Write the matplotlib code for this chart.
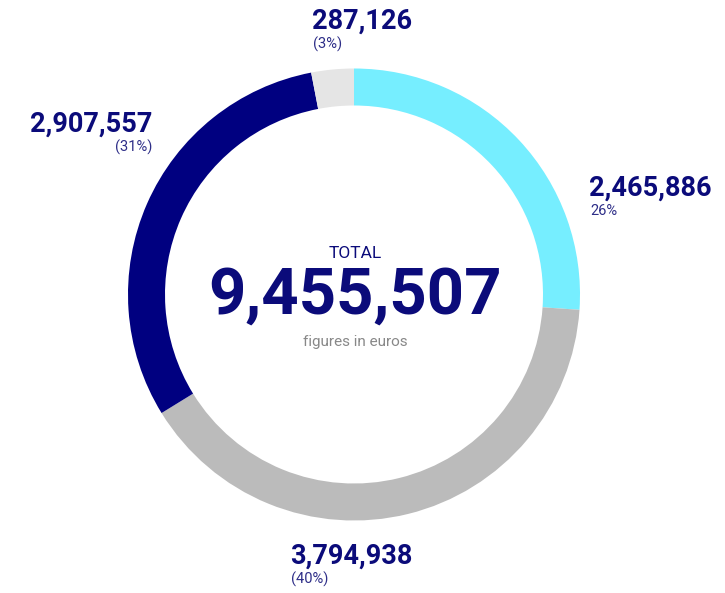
import matplotlib.pyplot as plt

values = [2465886, 3794938, 2907557, 287126]
colors = ['#76eeff', '#bbbbbb', '#000080', '#e5e5e5']
total = 9455507
value_labels = ['2,465,886', '3,794,938', '2,907,557', '287,126']
pct_labels = ['26%', '(40%)', '(31%)', '(3%)']

navy = '#0b0b7a'
pct_color = '#2e2e88'
fam = ['Roboto', 'DejaVu Sans']

fig = plt.figure(figsize=(7.25, 5.93), dpi=100)
ax = fig.add_axes([0, 0, 1, 1])

# donut (y axis inverted, so counterclock=True reads clockwise on screen)
ax.pie(values, colors=colors, startangle=-90, counterclock=True,
       center=(354, 294.5), radius=226, frame=True,
       wedgeprops=dict(width=37, linewidth=0))
ax.set_xlim(0, 725)
ax.set_ylim(593, 0)
ax.set_aspect('equal')
ax.axis('off')

# centre text
ax.text(355, 254, 'TOTAL', ha='center', va='center', fontsize=12.5,
        color=navy, family=fam)
ax.text(355, 296, '{:,}'.format(total), ha='center', va='center',
        fontsize=47, fontweight='bold', color=navy, family=fam)
ax.text(355, 342, 'figures in euros', ha='center', va='center',
        fontsize=11, color='#888888', family=fam)

# segment labels: (x, y of value, ha)
spots = [(589, 188, 'left'), (290, 556, 'left'), (152, 124, 'right'), (312, 21, 'left')]
for (x, y, ha), v, p in zip(spots, value_labels, pct_labels):
    ax.text(x, y, v, ha=ha, va='center', fontsize=19.5, fontweight='bold',
            color=navy, family=fam)
    ax.text(x + (1 if ha == 'left' else 0), y + 23, p, ha=ha, va='center',
            fontsize=10.5, color=pct_color, family=fam)

plt.savefig('out.png', dpi=100)
